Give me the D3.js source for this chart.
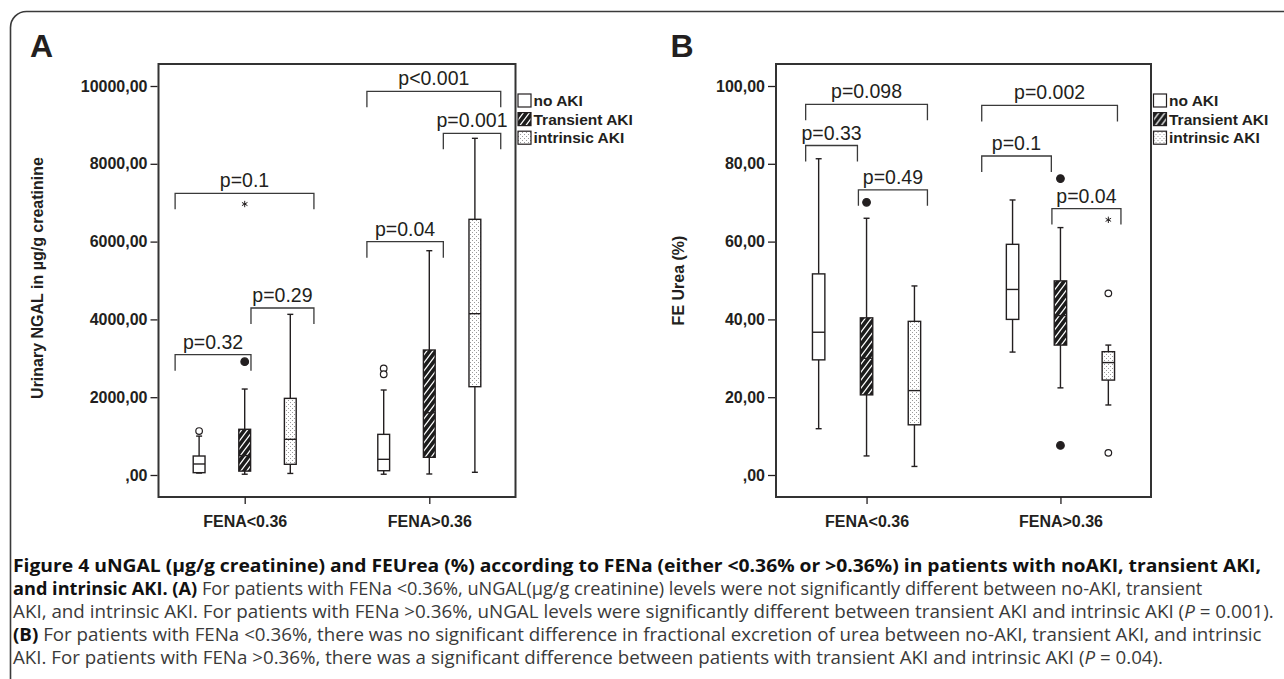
<!DOCTYPE html>
<html><head><meta charset="utf-8">
<script src="https://cdn.jsdelivr.net/npm/d3@7"></script>
<style>body{margin:0;background:#fff}svg{display:block}</style>
</head><body>
<svg id="c" width="1284" height="679"></svg>
<script>
// ---------- DATA ----------
const groups = ["FENA<0.36", "FENA>0.36"];
const series = ["no AKI", "Transient AKI", "intrinsic AKI"];

// Panel A: urinary NGAL, box stats per group: [low whisker, Q1, median, Q3, high whisker]
const ngalNoAKI     = [[50, 60, 283, 488, 1000], [20, 110, 403, 1045, 2185]];
const ngalTransient = [[20, 100, 500, 1175, 2210], [26, 455, 1600, 3213, 5766]];
const ngalIntrinsic = [[40, 275, 917, 1970, 4130], [70, 2270, 4147, 6573, 8655]];
const ngalOutliers = [
  {g: 0, s: 0, v: 1130, k: "o"}, {g: 0, s: 1, v: 2913, k: "o"}, {g: 0, s: 1, v: 6966, k: "*"},
  {g: 1, s: 0, v: 2740, k: "o"}, {g: 1, s: 0, v: 2590, k: "o"}
];
const ngalTicks = [0, 2000, 4000, 6000, 8000, 10000];
const ngalBrackets = [
  {g: 0, from: -0.377, to: 0.375, v: 7242, p: "p=0.1"},
  {g: 0, from: -0.377, to: 0.034, v: 3093, p: "p=0.32"},
  {g: 0, from: 0.034, to: 0.375, v: 4293, p: "p=0.29"},
  {g: 1, from: -0.338, to: 0.387, v: 9864, p: "p<0.001"},
  {g: 1, from: 0.076, to: 0.387, v: 8784, p: "p=0.001"},
  {g: 1, from: -0.338, to: 0.076, v: 5997, p: "p=0.04"}
];

// Panel B: FE Urea (%)
const ureaNoAKI     = [[11.9, 29.6, 36.7, 51.7, 81.3], [31.6, 40.0, 47.7, 59.3, 70.7]];
const ureaTransient = [[4.9, 20.6, 30.0, 40.4, 66.0], [22.4, 33.4, 41.0, 49.9, 63.6]];
const ureaIntrinsic = [[2.2, 12.9, 21.7, 39.5, 48.6], [18.0, 24.4, 28.9, 31.7, 33.4]];
const ureaOutliers = [
  {g: 0, s: 1, v: 70.1, k: "o"},
  {g: 1, s: 1, v: 76.2, k: "o"}, {g: 1, s: 1, v: 7.6, k: "o"},
  {g: 1, s: 2, v: 46.7, k: "o"}, {g: 1, s: 2, v: 5.7, k: "o"}, {g: 1, s: 2, v: 65.6, k: "*"}
];
const ureaTicks = [0, 20, 40, 60, 80, 100];
const ureaBrackets = [
  {g: 0, from: -0.314, to: 0.314, v: 95.3, p: "p=0.098"},
  {g: 0, from: -0.314, to: -0.047, v: 84.7, p: "p=0.33"},
  {g: 0, from: -0.042, to: 0.314, v: 73.3, p: "p=0.49"},
  {g: 1, from: -0.406, to: 0.294, v: 95.0, p: "p=0.002"},
  {g: 1, from: -0.406, to: -0.047, v: 82.0, p: "p=0.1"},
  {g: 1, from: -0.044, to: 0.312, v: 68.5, p: "p=0.04"}
];

// ---------- DRAWING ----------
const INK = "#231f20";
const svg = d3.select("#c");
const defs = svg.append("defs");
const hatch = defs.append("pattern").attr("id", "hatch").attr("patternUnits", "userSpaceOnUse")
  .attr("width", 6).attr("height", 8);
hatch.append("rect").attr("width", 6).attr("height", 8).attr("fill", "#1c1c1c");
hatch.append("path").attr("d", "M0,8 L6,0 M-1,1.333 L1,-1.333 M5,9.333 L7,6.667")
  .attr("stroke", "#fff").attr("stroke-width", 1.3);
const dots = defs.append("pattern").attr("id", "dots").attr("patternUnits", "userSpaceOnUse")
  .attr("width", 4).attr("height", 4);
dots.append("rect").attr("width", 4).attr("height", 4).attr("fill", "#fff");
dots.append("rect").attr("x", 0).attr("y", 0).attr("width", 1).attr("height", 1).attr("fill", "#9a9a9a");
dots.append("rect").attr("x", 2).attr("y", 2).attr("width", 1).attr("height", 1).attr("fill", "#9a9a9a");
const fills = ["#fff", "url(#hatch)", "url(#dots)"];

// outer frame
svg.append("rect").attr("x", 10.5).attr("y", 11.5).attr("width", 1320).attr("height", 720)
  .attr("rx", 16).attr("fill", "none").attr("stroke", "#3a3a3a").attr("stroke-width", 1.6);

const FONT = "'Liberation Sans', Arial, Helvetica, sans-serif";

function drawPanel(cfg) {
  const g = svg.append("g").style("font-family", FONT);
  const x = d3.scalePoint().domain(groups).range([cfg.left, cfg.right]).padding(0.467);
  const step = x.step();
  const y = d3.scaleLinear().domain([0, cfg.ticks[cfg.ticks.length - 1]]).range([cfg.zeroY, cfg.maxY]);
  const off = i => (i - 1) * 0.247 * step;
  const bw = 0.064 * step;

  g.append("text").attr("x", cfg.letterX).attr("y", 56.5).text(cfg.letter)
    .attr("font-size", 32).attr("font-weight", "bold").attr("fill", INK);

  g.append("rect").attr("x", cfg.left).attr("y", cfg.top).attr("width", cfg.right - cfg.left)
    .attr("height", cfg.bottom - cfg.top).attr("fill", "none").attr("stroke", "#333").attr("stroke-width", 2);

  const ya = g.append("g").attr("transform", `translate(${cfg.left - 1},0)`)
    .call(d3.axisLeft(y).tickValues(cfg.ticks).tickSize(7).tickPadding(3)
      .tickFormat(v => (v === 0 ? "" : v) + ",00"));
  ya.select(".domain").remove();
  ya.selectAll("line").attr("stroke", INK).attr("stroke-width", 1.3);
  ya.selectAll("text").attr("font-size", 16).attr("font-weight", "bold").attr("fill", INK)
    .style("font-family", FONT);

  const xa = g.append("g").attr("transform", `translate(0,${cfg.bottom})`)
    .call(d3.axisBottom(x).tickSize(7).tickPadding(12));
  xa.select(".domain").remove();
  xa.selectAll("line").attr("stroke", INK).attr("stroke-width", 1.3);
  xa.selectAll("text").attr("font-size", 16).attr("font-weight", "bold").attr("fill", INK)
    .style("font-family", FONT);

  g.append("text").attr("transform", `translate(${cfg.titleX},${cfg.titleY}) rotate(-90)`)
    .attr("text-anchor", "middle").attr("font-size", 16).attr("font-weight", "bold")
    .attr("fill", INK).text(cfg.title);

  const boxes = [];
  cfg.stats.forEach((arr, s) => arr.forEach((st, gi) => boxes.push({s, g: gi, st})));
  const bg = g.append("g").attr("stroke", INK).attr("stroke-width", 1.4);
  boxes.forEach(b => {
    const cx = x(groups[b.g]) + off(b.s);
    const [lo, q1, md, q3, hi] = b.st;
    bg.append("line").attr("x1", cx).attr("x2", cx).attr("y1", y(q3)).attr("y2", y(hi));
    bg.append("line").attr("x1", cx).attr("x2", cx).attr("y1", y(q1)).attr("y2", y(lo));
    bg.append("line").attr("x1", cx - 3).attr("x2", cx + 3).attr("y1", y(hi)).attr("y2", y(hi));
    bg.append("line").attr("x1", cx - 3).attr("x2", cx + 3).attr("y1", y(lo)).attr("y2", y(lo));
    bg.append("rect").attr("x", cx - bw / 2).attr("y", y(q3)).attr("width", bw)
      .attr("height", y(q1) - y(q3)).attr("fill", fills[b.s]);
    bg.append("line").attr("x1", cx - bw / 2).attr("x2", cx + bw / 2).attr("y1", y(md)).attr("y2", y(md));
  });

  cfg.outliers.forEach(o => {
    const cx = x(groups[o.g]) + off(o.s);
    if (o.k === "*") {
      g.append("path").attr("transform", `translate(${cx},${y(o.v)})`)
        .attr("d", d3.symbol(d3.symbolAsterisk, 28)()).attr("fill", "none")
        .attr("stroke", INK).attr("stroke-width", 1);
    } else {
      const filled = o.s === 1;
      g.append("circle").attr("cx", cx).attr("cy", y(o.v)).attr("r", filled ? 3.8 : 3.3)
        .attr("fill", filled ? INK : "#fff").attr("stroke", INK).attr("stroke-width", 1.2);
    }
  });

  cfg.brackets.forEach(b => {
    const c = x(groups[b.g]);
    const x1 = c + b.from * step, x2 = c + b.to * step, yy = y(b.v);
    g.append("path").attr("d", `M${x1},${yy + 16}V${yy}H${x2}V${yy + 16}`)
      .attr("fill", "none").attr("stroke", "#3a3a3a").attr("stroke-width", 1.3);
    g.append("text").attr("x", (x1 + x2) / 2).attr("y", yy - 6).attr("text-anchor", "middle")
      .attr("font-size", 19.5).attr("fill", INK).text(b.p);
  });

  const lg = g.append("g").attr("transform", `translate(${cfg.right + 2.5},0)`);
  series.forEach((s, i) => {
    const cy = 100.5 + i * 18.6;
    lg.append("rect").attr("x", 0).attr("y", cy - 6.5).attr("width", 13).attr("height", 13)
      .attr("fill", fills[i]).attr("stroke", INK).attr("stroke-width", 1.2);
    lg.append("text").attr("x", 15.5).attr("y", cy + 5.6).attr("font-size", 15.5)
      .attr("font-weight", "bold").attr("fill", INK).text(s);
  });
}

drawPanel({letter: "A", letterX: 30, left: 158.5, right: 515.5, top: 64, bottom: 497,
  zeroY: 475, maxY: 86, ticks: ngalTicks, stats: [ngalNoAKI, ngalTransient, ngalIntrinsic],
  outliers: ngalOutliers, brackets: ngalBrackets,
  title: "Urinary NGAL in µg/g creatinine", titleX: 42.5, titleY: 278});

drawPanel({letter: "B", letterX: 670.5, left: 776, right: 1151, top: 64, bottom: 497,
  zeroY: 475, maxY: 86, ticks: ureaTicks, stats: [ureaNoAKI, ureaTransient, ureaIntrinsic],
  outliers: ureaOutliers, brackets: ureaBrackets,
  title: "FE Urea (%)", titleX: 683.5, titleY: 280.5});

// ---------- CAPTION ----------
const captionLines = [
  {len: 1249, parts: [["b", "Figure 4 uNGAL (µg/g creatinine) and FEUrea (%) according to FENa (either <0.36% or >0.36%) in patients with noAKI, transient AKI,"]]},
  {len: 1190, parts: [["b", "and intrinsic AKI. (A)"], ["r", " For patients with FENa <0.36%, uNGAL(µg/g creatinine) levels were not significantly different between no-AKI, transient"]]},
  {len: 1261, parts: [["r", "AKI, and intrinsic AKI. For patients with FENa >0.36%, uNGAL levels were significantly different between transient AKI and intrinsic AKI ("], ["i", "P"], ["r", " = 0.001)."]]},
  {len: 1249, parts: [["b", "(B)"], ["r", " For patients with FENa <0.36%, there was no significant difference in fractional excretion of urea between no-AKI, transient AKI, and intrinsic"]]},
  {len: 1150, parts: [["r", "AKI. For patients with FENa >0.36%, there was a significant difference between patients with transient AKI and intrinsic AKI ("], ["i", "P"], ["r", " = 0.04)."]]}
];
const capG = svg.append("g").style("font-family", "'Open Sans','Liberation Sans',sans-serif");
captionLines.forEach((ln, i) => {
  const holder = capG.append("g");
  const t = holder.append("text").attr("x", 0).attr("y", 0).attr("font-size", 17.5).attr("fill", "#3a3a3a");
  ln.parts.forEach(([k, s]) => {
    const sp = t.append("tspan").text(s);
    if (k === "b") sp.attr("font-weight", "bold").attr("fill", "#111");
    if (k === "i") sp.attr("font-style", "italic");
  });
  const natural = t.node().getComputedTextLength();
  holder.attr("transform", `translate(13,${571.5 + i * 23.2}) scale(${ln.len / natural},1)`);
});
</script>
</body></html>
